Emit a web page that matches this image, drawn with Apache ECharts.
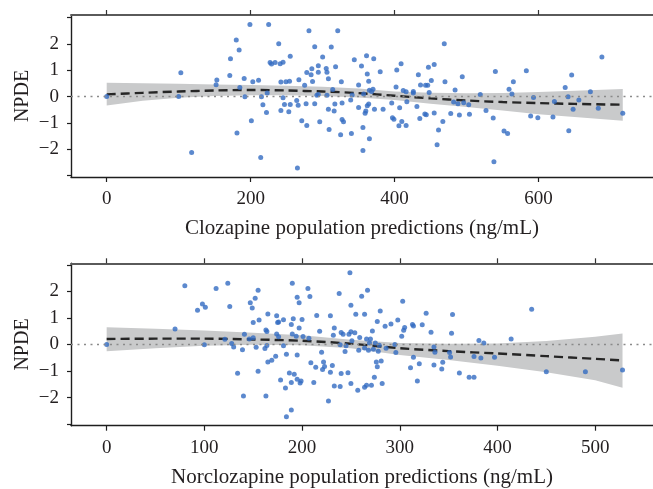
<!DOCTYPE html>
<html>
<head>
<meta charset="utf-8">
<script src="https://cdn.jsdelivr.net/npm/echarts@6/dist/echarts.min.js"></script>
<style>html,body{margin:0;padding:0;background:#fff}#c{width:653px;height:489px}</style>
</head>
<body>
<div id="c"></div>
<script>
// ---------- Data ----------
// Clozapine panel (top)
const clzX = [0,103,100,118,152,153,171,172,180,184,181,185,191,192,199,201,203,211,214,215,217,222,223,225,227,229,234,239,241,245,242,245,242,247,249,254,255,253,255,264,266,265,267,271,275,277,278,278,281,284,285,286,289,289,292,294,294,294,296,300,305,306,306,308,308,309,312,314,316,317,318,321,326,327,327,329,325,339,340,341,344,350,350,
354,356,356,357,359,360,361,362,362,364,364,365,365,368,370,371,372,380,384,396,397,399,402,403,406,407,409,410,412,416,416,417,426,426,431,433,435,436,442,443,444,446,447,448,451,455,455,459,461,467,469,470,478,482,484,488,490,494,496,503,504,519,527,537,538,540,552,557,559,563,565,583,589,593,599,620,622,637,641,642,646,648,656,672,683,688,717];
const clzY = [0,0.90,0,-2.12,0.45,0.63,0.80,1.43,2.14,1.76,-1.38,0.34,0.68,-0.01,2.73,-0.92,0.56,0.62,-2.31,-0.01,-0.31,-0.61,0.13,2.73,1.29,1.23,1.29,2.0,1.24,1.30,0.55,-0.05,-0.53,-0.30,0.56,0.58,1.53,-0.58,-0.30,-0.15,-0.33,-2.71,0.64,-0.92,0.43,-0.27,-1.10,0.91,2.49,0.83,1.05,0.57,1.89,-0.27,0.05,1.17,0.92,0.08,-0.96,1.50,1.06,0.92,0.05,0.67,-0.48,-1.25,1.88,0.27,-0.55,-0.28,1.13,2.49,0.56,-0.25,-0.87,-0.96,-1.45,-0.13,-1.40,0.06,1.39,0.44,-0.42,
1.16,-1.17,-2.05,0.10,-0.63,-0.55,1.55,-0.35,0.85,0.58,-0.28,0.24,-1.60,0.19,0.28,1.43,-0.48,0.94,-0.48,-0.25,-0.80,-0.86,0.36,1.01,-1.11,-0.43,1.24,-0.95,0.23,0.18,-1.10,-0.20,0.19,0.13,-0.38,0.83,-0.83,0.44,-0.66,0.43,-0.69,0.43,1.11,0.15,0.61,-0.62,1.21,-1.83,-1.27,-0.95,2.00,0.56,-0.64,-0.21,0.25,-0.27,-0.70,0.75,-0.24,-0.31,-0.67,0.08,-0.53,-0.81,-2.47,0.95,-1.31,-1.40,0.28,0.10,0.56,0.98,-0.74,-0.04,-0.80,-0.78,-0.19,0.34,-0.01,-1.30,0.82,-0.48,-0.13,0.18,-0.44,1.50,-0.63];
const clzFitX     = [0, 50, 100, 150, 200, 250, 300, 350, 400, 450, 500, 550, 600, 650, 717];
const clzFitMean  = [0.08, 0.14, 0.19, 0.23, 0.25, 0.23, 0.19, 0.13, 0.03, -0.07, -0.15, -0.21, -0.25, -0.28, -0.31];
const clzFitUpper = [0.52, 0.50, 0.48, 0.46, 0.44, 0.41, 0.37, 0.30, 0.19, 0.14, 0.12, 0.13, 0.17, 0.22, 0.29];
const clzFitLower = [-0.34, -0.16, -0.05, 0.02, 0.05, 0.05, 0.02, -0.04, -0.13, -0.27, -0.40, -0.53, -0.67, -0.78, -0.92];

// Norclozapine panel (bottom)
const norX = [0,70,80,93,98,101,100,112,121,124,126,128,130,134,139,140,141,146,147,149,150,150,152,153,155,155,156,162,163,163,164,164,165,165,169,173,174,174,175,176,176,178,181,181,183,184,184,187,189,189,189,190,190,191,192,194,195,195,195,197,197,198,199,200,201,206,207,208,209,212,214,215,218,220,221,222,223,227,229,229,231,232,233,233,238,239,239,240,240,242,244,245,247,248,249,250,250,250,251,254,255,257,258,259,
261,264,264,264,266,266,267,268,269,270,271,272,273,274,275,276,277,277,278,279,280,281,282,285,286,291,295,296,298,302,303,304,305,311,313,314,314,318,320,323,327,332,335,335,336,343,344,351,352,353,354,361,371,376,376,381,383,386,397,414,435,450,490,528];
const norY = [0,0.58,2.21,1.29,1.53,1.40,-0.01,2.11,0.20,2.31,1.43,0.04,-0.09,-1.08,-0.20,-1.94,0.39,0.21,1.57,1.38,0.83,0.25,1.74,-0.10,-1.01,2.04,0.92,-0.15,0.55,-1.94,0.49,-0.04,-0.66,1.15,-0.59,-0.44,1.08,0.40,0.83,0.29,0.85,-1.34,0.93,-0.05,-1.64,-0.37,-2.72,-1.07,-1.43,0.75,-2.47,0.40,2.31,0.97,-1.12,0.31,-1.31,-0.40,1.78,1.57,0.62,-1.45,-1.38,0.94,0.30,2.11,0.24,1.81,-0.69,-1.43,-0.86,1.09,0.50,-0.29,-0.94,-0.66,-0.83,-2.13,1.08,-1.05,-0.79,0.35,0.62,-1.56,1.92,-1.58,-0.01,-1.09,0.45,0.39,-0.26,-0.05,-1.06,0.39,2.70,1.48,-1.47,0.48,0.14,0.44,1.14,-1.72,-0.22,0.26,
1.82,1.14,-0.13,-1.61,-1.54,0.21,2.04,-0.22,0.06,0.21,-1.54,0.51,-0.18,-1.23,0.06,-0.66,-0.84,0.87,-0.25,-0.03,1.26,-0.62,-1.47,0.69,-0.14,0.77,0.00,-0.30,0.92,0.31,1.63,0.54,0.64,-0.88,0.75,0.70,-0.48,-1.38,-0.73,0.74,1.18,0.46,-0.09,-0.77,-0.29,-0.92,-0.67,-0.30,-0.47,0.42,1.13,-1.07,-1.23,-1.23,-0.45,0.15,-0.51,0.06,-0.48,0.21,1.33,-1.03,-1.03,-0.96];
const norFitX     = [0, 50, 100, 150, 200, 250, 300, 350, 400, 450, 500, 528];
const norFitMean  = [0.21, 0.22, 0.22, 0.19, 0.14, 0.03, -0.14, -0.25, -0.34, -0.44, -0.54, -0.60];
const norFitUpper = [0.65, 0.59, 0.53, 0.44, 0.35, 0.18, 0.06, 0.03, 0.04, 0.13, 0.29, 0.41];
const norFitLower = [-0.25, -0.14, -0.05, -0.01, -0.03, -0.14, -0.40, -0.58, -0.80, -1.05, -1.35, -1.63];

// Axis ticks / labels
const clzXTicks = [0, 200, 400, 600];
const norXTicks = [0, 100, 200, 300, 400, 500];
const yTickVals = [-3, -2, -1, 0, 1, 2, 3];
const yLabelVals = [-2, -1, 0, 1, 2];
const clzXName = 'Clozapine population predictions (ng/mL)';
const norXName = 'Norclozapine population predictions (ng/mL)';
const yName = 'NPDE';

// ---------- Chart ----------
const FONT = '"Liberation Serif", "DejaVu Serif", serif';
const TXT = '#231f20';
const PT = '#336bc2';
const BAND = '#c9cacb';
const fmtMinus = v => String(v).replace('-', '\u2212');

function zip(a, b) { return a.map((v, i) => [v, b[i]]); }

const panels = [
  { top: 15, height: 162, xmin: -49.6, xmax: 759, ymin: -3.05, ymax: 3.09, ticks: clzXTicks, name: clzXName,
    px: clzX, py: clzY, fx: clzFitX, fm: clzFitMean, fu: clzFitUpper, fl: clzFitLower },
  { top: 263.3, height: 162.4, xmin: -36.5, xmax: 559.2, ymin: -3.06, ymax: 3.06, ticks: norXTicks, name: norXName,
    px: norX, py: norY, fx: norFitX, fm: norFitMean, fu: norFitUpper, fl: norFitLower }
];

const grid = [], xAxis = [], yAxis = [], series = [];
panels.forEach((p, i) => {
  grid.push({ left: 71, right: 0, top: p.top, height: p.height, containLabel: false });
  xAxis.push({
    type: 'value', gridIndex: i, position: 'bottom', min: p.xmin, max: p.xmax,
    name: p.name, nameLocation: 'middle', nameGap: 41, nameMoveOverlap: false,
    nameTextStyle: { fontFamily: FONT, fontSize: 21, color: TXT },
    axisLine: { show: true, onZero: false, lineStyle: { color: '#1e1e1e', width: 1.4 } },
    axisTick: { show: true, inside: false, length: 5, customValues: p.ticks, lineStyle: { color: '#1e1e1e', width: 1.2 } },
    axisLabel: { show: true, margin: 13, customValues: p.ticks, fontFamily: FONT, fontSize: 19, color: TXT },
    splitLine: { show: false }
  });
  xAxis.push({
    type: 'value', gridIndex: i, position: 'top', min: p.xmin, max: p.xmax,
    axisLine: { show: true, onZero: false, lineStyle: { color: '#5a5a5a', width: 1.8 } },
    axisTick: { show: true, inside: false, length: 5, customValues: p.ticks, lineStyle: { color: '#333', width: 1.2 } },
    axisLabel: { show: false }, splitLine: { show: false }
  });
  yAxis.push({
    type: 'value', gridIndex: i, min: p.ymin, max: p.ymax,
    name: yName, nameLocation: 'middle', nameGap: 38, nameRotate: 90, nameMoveOverlap: false,
    nameTextStyle: { fontFamily: FONT, fontSize: 20, color: TXT },
    axisLine: { show: true, onZero: false, lineStyle: { color: '#1e1e1e', width: 1.4 } },
    axisTick: { show: true, inside: false, length: 4, customValues: yTickVals, lineStyle: { color: '#1e1e1e', width: 1.2 } },
    axisLabel: { show: true, margin: 12, customValues: yLabelVals, formatter: fmtMinus, fontFamily: FONT, fontSize: 19, color: TXT },
    splitLine: { show: false }
  });
  const xi = i * 2, yi = i;
  // confidence band drawn as a polygon through the axis scales
  const bandData = p.fx.map((x, k) => [x, p.fl[k], p.fu[k]]);
  series.push({
    type: 'custom', xAxisIndex: xi, yAxisIndex: yi, silent: true, clip: true, z: 1,
    encode: { x: 0, y: [1, 2] },
    data: bandData,
    renderItem: function (params, api) {
      if (params.dataIndex !== 0) return null;
      const up = bandData.map(d => api.coord([d[0], d[2]]));
      const lo = bandData.map(d => api.coord([d[0], d[1]])).reverse();
      return { type: 'polygon', shape: { points: up.concat(lo) }, style: { fill: BAND, stroke: null } };
    }
  });
  series.push({
    type: 'line', xAxisIndex: xi, yAxisIndex: yi, symbol: 'none', silent: true, smooth: 0.3,
    lineStyle: { color: '#262626', width: 2.4, type: [9, 5] },
    data: zip(p.fx, p.fm), z: 3,
    markLine: {
      silent: true, symbol: 'none', label: { show: false },
      lineStyle: { color: '#8a8a8a', width: 1.3, type: [2, 4.5] },
      data: [{ yAxis: 0 }]
    }
  });
  series.push({
    type: 'scatter', xAxisIndex: xi, yAxisIndex: yi, symbol: 'circle', symbolSize: 5,
    itemStyle: { color: PT }, data: zip(p.px, p.py), z: 4
  });
});

const chart = echarts.init(document.getElementById('c'), null, { renderer: 'canvas' });
chart.setOption({ animation: false, backgroundColor: '#fff', grid, xAxis, yAxis, series });
</script>
</body>
</html>
